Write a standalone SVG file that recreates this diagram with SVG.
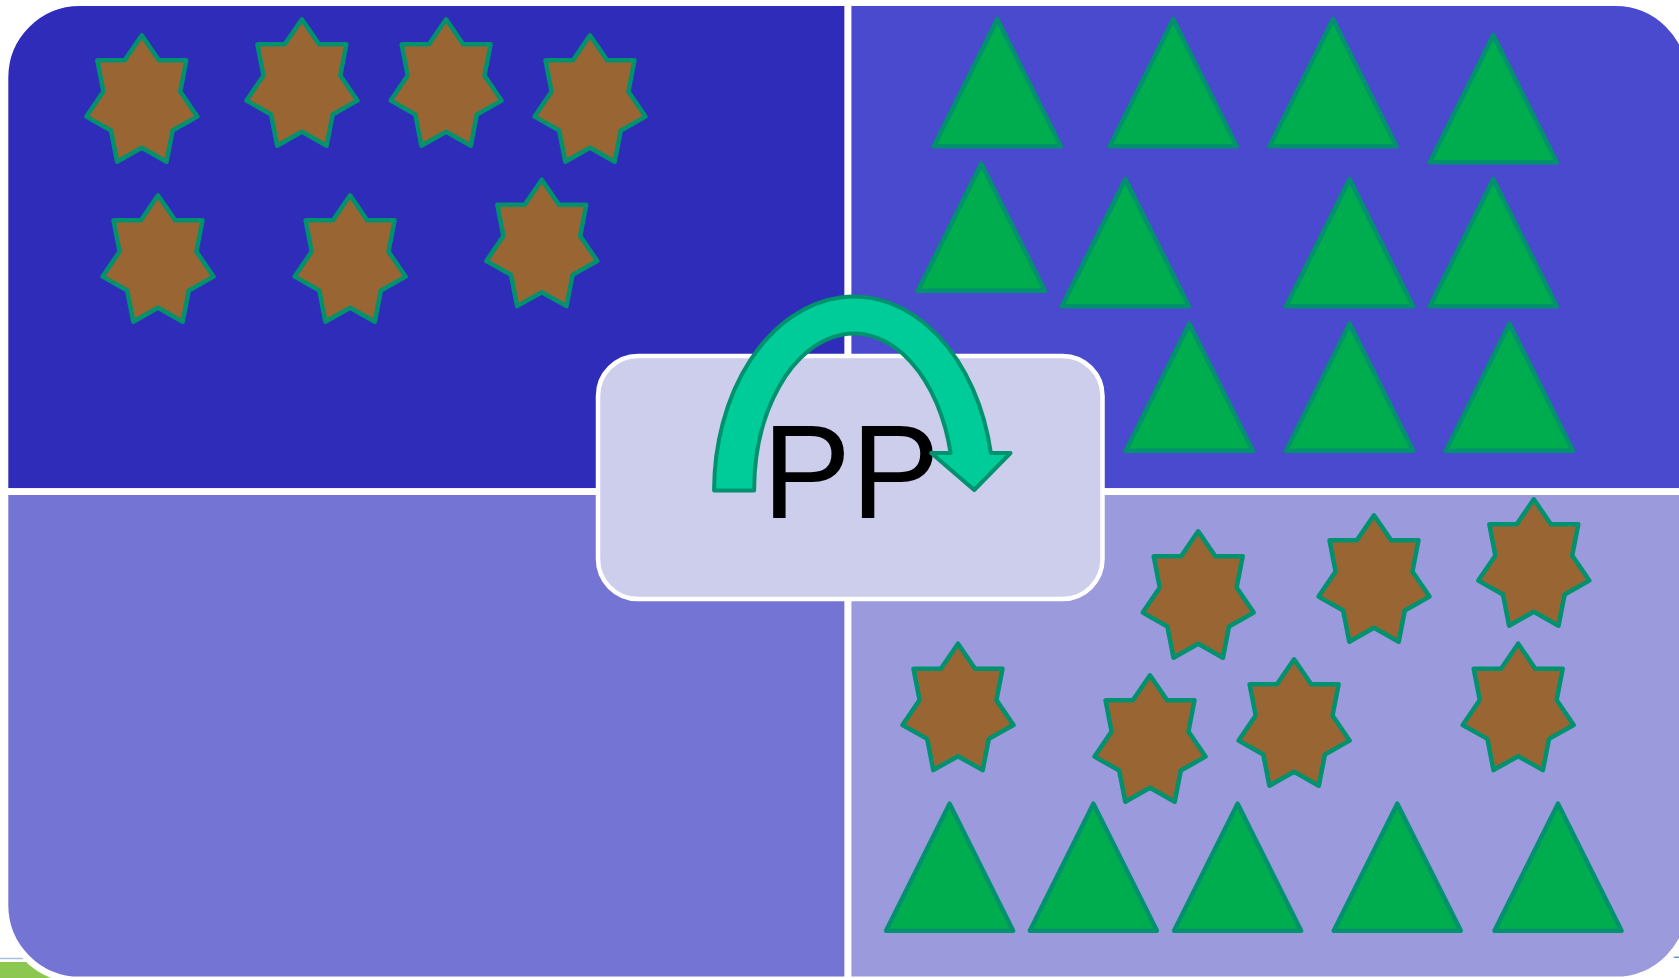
<svg xmlns="http://www.w3.org/2000/svg" xmlns:xlink="http://www.w3.org/1999/xlink" width="1679" height="978" viewBox="0 0 1679 978">
  <defs>
    <style>
      .quad { stroke: #FFFFFF; stroke-width: 6.8; stroke-linejoin: miter; }
      .star { fill: #996633; stroke: #00916F; stroke-width: 4.5; stroke-linejoin: round; }
      .tri { fill: #00AD4E; stroke: #00916F; stroke-width: 4.5; stroke-linejoin: round; }
      .box { fill: #CCCEEB; stroke: #FFFFFF; stroke-width: 4.5; }
      .arrow { fill: #00CC99; stroke: #00916F; stroke-width: 4; stroke-linejoin: round; }
      .label { font-family: "Liberation Sans", Arial, sans-serif; font-size: 133px; fill: #000000; }
    </style>
    <path id="star7" d="M0,-66.5 L17.1,-41.45 L44.48,-41.46 L38.41,-10.24 L55.47,14.8 L30.8,28.68 L24.69,59.92 L0,46 L-24.69,59.92 L-30.8,28.68 L-55.47,14.8 L-38.41,-10.24 L-44.48,-41.46 L-17.1,-41.45 Z"/>
    <path id="tri" d="M0,0 L63.5,127 L-63.5,127 Z"/>
  </defs>

  <rect width="1679" height="978" fill="#FFFFFF"/>

  <g id="edge-fragments">
    <rect x="0" y="962" width="110" height="16" fill="#8CC850"/>
    <line x1="0" y1="958.5" x2="60" y2="958.5" stroke="#A3BFE2" stroke-width="1.5"/>
    <line x1="1630" y1="957.3" x2="1679" y2="957.3" stroke="#5B9BD5" stroke-width="1.5"/>
  </g>

  <g id="quadrants">
    <path id="quad-tl" class="quad" fill="#2E2CB8" d="M4.9,491.7 V77.6 A75,75 0 0 1 79.9,2.6 H848 V491.7 Z"/>
    <path id="quad-tr" class="quad" fill="#494ACD" d="M848,2.6 H1615.4 A75,75 0 0 1 1690.4,77.6 V491.7 H848 Z"/>
    <path id="quad-bl" class="quad" fill="#7474D5" d="M4.9,491.7 H848 V980 H79.9 A75,75 0 0 1 4.9,905 Z"/>
    <path id="quad-br" class="quad" fill="#9B9ADC" d="M848,491.7 H1690.4 V905 A75,75 0 0 1 1615.4,980 H848 Z"/>
  </g>

  <g id="stars-top-left">
    <use xlink:href="#star7" href="#star7" class="star" transform="translate(141.8,101.8)"/>
    <use xlink:href="#star7" href="#star7" class="star" transform="translate(301.9,85.8)"/>
    <use xlink:href="#star7" href="#star7" class="star" transform="translate(446.1,85.8)"/>
    <use xlink:href="#star7" href="#star7" class="star" transform="translate(590,101.8)"/>
    <use xlink:href="#star7" href="#star7" class="star" transform="translate(158,261.8)"/>
    <use xlink:href="#star7" href="#star7" class="star" transform="translate(350.1,261.8)"/>
    <use xlink:href="#star7" href="#star7" class="star" transform="translate(541.8,246.2)"/>
  </g>

  <g id="triangles-top-right">
    <use xlink:href="#tri" href="#tri" class="tri" transform="translate(997.3,19.3)"/>
    <use xlink:href="#tri" href="#tri" class="tri" transform="translate(1173.2,19.3)"/>
    <use xlink:href="#tri" href="#tri" class="tri" transform="translate(1333,19.3)"/>
    <use xlink:href="#tri" href="#tri" class="tri" transform="translate(1493.3,35.3)"/>
    <use xlink:href="#tri" href="#tri" class="tri" transform="translate(981.3,163.7)"/>
    <use xlink:href="#tri" href="#tri" class="tri" transform="translate(1125.4,179.3)"/>
    <use xlink:href="#tri" href="#tri" class="tri" transform="translate(1349.6,179.3)"/>
    <use xlink:href="#tri" href="#tri" class="tri" transform="translate(1493.3,179.3)"/>
    <use xlink:href="#tri" href="#tri" class="tri" transform="translate(1189.3,323.7)"/>
    <use xlink:href="#tri" href="#tri" class="tri" transform="translate(1349.6,323.7)"/>
    <use xlink:href="#tri" href="#tri" class="tri" transform="translate(1509.4,323.7)"/>
  </g>

  <g id="stars-bottom-right">
    <use xlink:href="#star7" href="#star7" class="star" transform="translate(1198.2,597.8)"/>
    <use xlink:href="#star7" href="#star7" class="star" transform="translate(1374,581.8)"/>
    <use xlink:href="#star7" href="#star7" class="star" transform="translate(1533.8,565.8)"/>
    <use xlink:href="#star7" href="#star7" class="star" transform="translate(958,710.2)"/>
    <use xlink:href="#star7" href="#star7" class="star" transform="translate(1150,741.8)"/>
    <use xlink:href="#star7" href="#star7" class="star" transform="translate(1294.1,725.8)"/>
    <use xlink:href="#star7" href="#star7" class="star" transform="translate(1518.2,710.2)"/>
  </g>

  <g id="triangles-bottom-right">
    <use xlink:href="#tri" href="#tri" class="tri" transform="translate(949.6,803.7)"/>
    <use xlink:href="#tri" href="#tri" class="tri" transform="translate(1093.4,803.7)"/>
    <use xlink:href="#tri" href="#tri" class="tri" transform="translate(1237.6,803.7)"/>
    <use xlink:href="#tri" href="#tri" class="tri" transform="translate(1397.3,803.7)"/>
    <use xlink:href="#tri" href="#tri" class="tri" transform="translate(1558,803.7)"/>
  </g>

  <g id="center-box">
    <rect class="box" x="598" y="356" width="504.5" height="243" rx="40" ry="40"/>
    <text class="label" x="851" y="518" text-anchor="middle">PP</text>
  </g>

  <g id="connectors">
    <path id="curved-arrow" class="arrow" d="M714.1,490.5 A139.7,194 0 0 1 990.86,453 L1010.5,453 L974.2,490 L931.2,453 L950.6,453 A99.7,157 0 0 0 754.1,490.5 Z"/>
  </g>
</svg>
